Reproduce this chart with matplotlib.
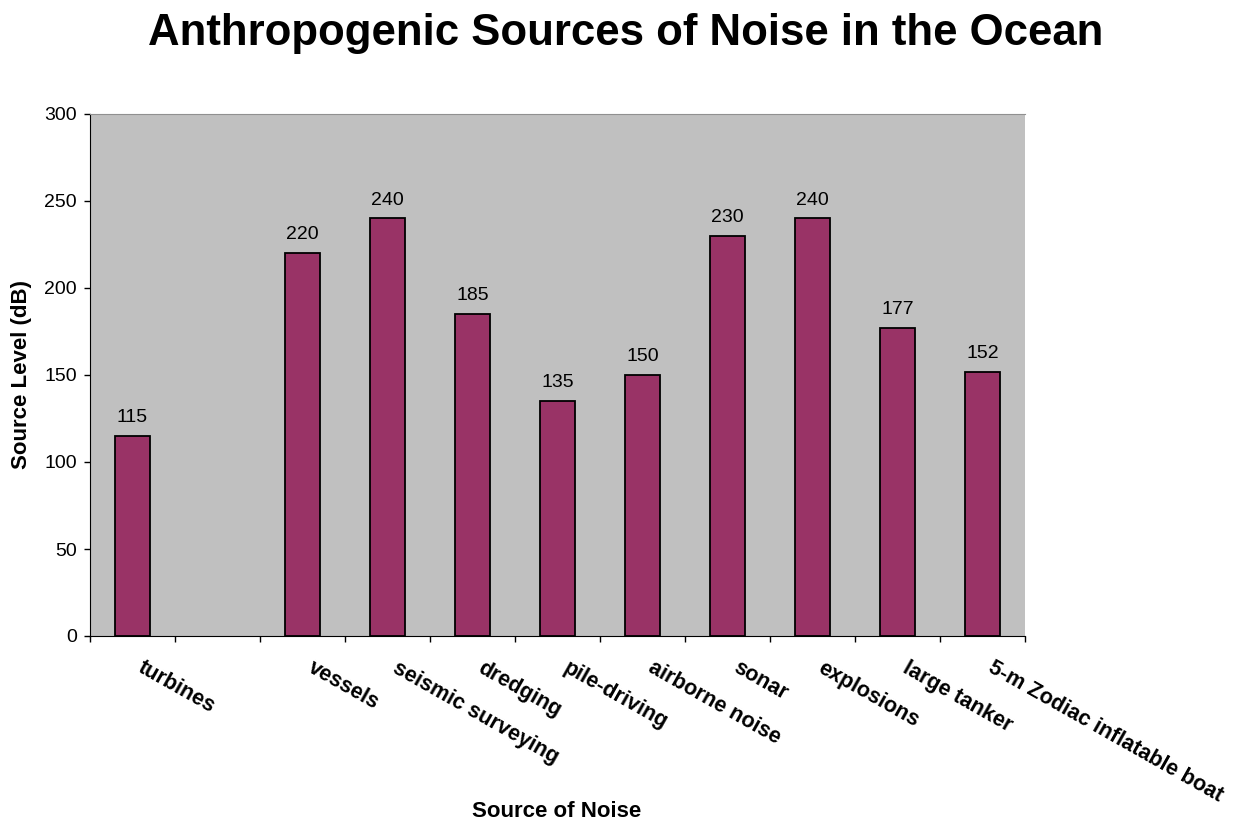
import matplotlib
matplotlib.use("Agg")
import matplotlib.pyplot as plt
import numpy as np

# data
categories = [
    "turbines", "", "vessels", "seismic surveying", "dredging", "pile-driving",
    "airborne noise", "sonar", "explosions", "large tanker",
    "5-m Zodiac inflatable boat",
]
levels = [115, None, 220, 240, 185, 135, 150, 230, 240, 177, 152]
y_ticks = [0, 50, 100, 150, 200, 250, 300]

BAR = "#993366"
BG = "#C0C0C0"
W, H = 1251, 823

plt.rcParams["font.family"] = ["Liberation Sans", "DejaVu Sans"]

fig = plt.figure(figsize=(W / 100, H / 100), dpi=100)
ax = fig.add_axes([90 / W, 1 - 636 / H, 935 / W, 522 / H])
ax.set_facecolor(BG)

x = np.arange(len(categories))
for xi, v in zip(x, levels):
    if v is None:
        continue
    ax.bar(xi, v, width=0.41, color=BAR, edgecolor="black", linewidth=1.3, zorder=2)
    ax.annotate(f"{v}", xy=(xi, v), xytext=(0, 10), textcoords="offset points",
                ha="center", va="baseline", fontsize=14, color="black")

ax.set_xlim(-0.5, len(categories) - 0.5)
ax.set_ylim(0, 300)
ax.set_yticks(y_ticks)
ax.tick_params(axis="y", labelsize=14, length=4.5, width=1, direction="out", pad=5)

# category labels at centres, tick marks at the boundaries
ax.set_xticks(x)
ax.set_xticklabels([])
ax.set_xticks(np.arange(len(categories) + 1) - 0.5, minor=True)
ax.tick_params(axis="x", which="major", length=0)
ax.tick_params(axis="x", which="minor", length=4.5, width=1, direction="out")

for xi, lbl in zip(x, categories):
    if not lbl:
        continue
    ax.annotate(lbl, xy=(xi, 0), xycoords=("data", "axes fraction"),
                xytext=(5, -22), textcoords="offset points",
                rotation=-29.5, rotation_mode="anchor", ha="left", va="center",
                fontsize=15.5, fontweight="bold")

ax.spines["left"].set_color("black")
ax.spines["bottom"].set_color("black")
ax.spines["top"].set_color("#909090")
ax.spines["right"].set_visible(False)

fig.text(22 / W, 1 - 375 / H, "Source Level (dB)", rotation=90, ha="center", va="center",
         fontsize=16, fontweight="bold")
fig.text(557 / W, 1 - 817 / H, "Source of Noise", ha="center", va="baseline",
         fontsize=16, fontweight="bold")
fig.text(626 / W, 1 - 45 / H, "Anthropogenic Sources of Noise in the Ocean",
         ha="center", va="baseline", fontsize=31.5, fontweight="bold")

fig.savefig("out.png", dpi=100)
